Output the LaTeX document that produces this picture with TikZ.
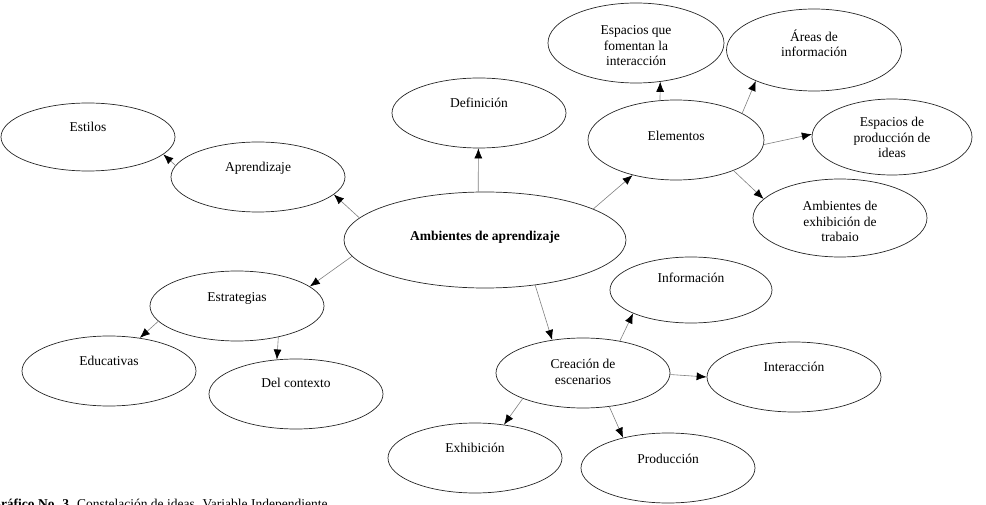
\documentclass[tikz,border=0pt]{standalone}
\usepackage{fontspec}
\setmainfont{Liberation Serif}
\usetikzlibrary{shapes.geometric,arrows.meta}
\newcommand{\up}[2]{\raisebox{#1}[0pt][0pt]{\begin{tabular}{@{}c@{}}#2\end{tabular}}}

\begin{document}
\begin{tikzpicture}[x=1pt,y=-1pt,
  idea/.style={ellipse,draw=black!85,line width=0.7pt,inner sep=0pt,
    minimum width=174pt,minimum height=70pt,font=\fontsize{13.5pt}{15.5pt}\selectfont},
  link/.style={draw=gray,line width=0.6pt,-{Latex[length=10pt,width=8pt,color=black]}}]
  \useasboundingbox (0,0) rectangle (986,505);

  % Central idea
  \node[idea,minimum width=282pt,minimum height=96pt] (amb) at (485,240) {\up{-1pt}{\textbf{Ambientes de aprendizaje}}};

  % Upper left
  \node[idea,minimum height=68pt] (estilos) at (88,137) {\up{5pt}{Estilos}};
  \node[idea] (aprend) at (258,177) {\up{5pt}{Aprendizaje}};
  \node[idea] (defin) at (479,113) {\up{5pt}{Definición}};

  % Elementos and its parts
  \node[idea,minimum width=176pt,minimum height=80pt] (elem) at (676,140) {\up{-1pt}{Elementos}};
  \node[idea,minimum width=176pt,minimum height=80pt] (fomen) at (636,43) {\up{-8pt}{Espacios que\\fomentan la\\interacción}};
  \node[idea,minimum width=175pt,minimum height=82pt] (areas) at (814,50) {\up{1pt}{Áreas de\\información}};
  \node[idea,minimum width=160pt,minimum height=76pt] (prodid) at (892,137) {\up{-6pt}{Espacios de\\producción de\\ideas}};
  \node[idea,minimum height=78pt] (exhtrab) at (840,218) {\up{-9pt}{Ambientes de\\exhibición de\\trabaio}};

  % Estrategias
  \node[idea] (estrat) at (237,306) {\up{4pt}{Estrategias}};
  \node[idea] (educ) at (109,371) {\up{5pt}{Educativas}};
  \node[idea] (contexto) at (296,394) {\up{6pt}{Del contexto}};

  % Creacion de escenarios
  \node[idea] (escen) at (583,373) {\up{-4pt}{Creación de\\escenarios}};
  \node[idea,minimum width=162pt,minimum height=66pt] (inform) at (691,290) {\up{7pt}{Información}};
  \node[idea] (interac) at (794,377) {\up{5pt}{Interacción}};
  \node[idea] (exhib) at (475,458) {\up{5pt}{Exhibición}};
  \node[idea] (produc) at (668,468) {\up{4pt}{Producción}};

  % Connectors
  \draw[link] (aprend.172) -- (estilos.-13);
  \draw[link] (amb.170) -- (aprend.-13);
  \draw[link] (amb.98) -- (defin.-91);
  \draw[link] (amb.16) -- (elem.-141);
  \draw[link] (elem.112) -- (fomen.-58);
  \draw[link] (elem.22) -- (areas.-152);
  \draw[link] (elem.-3) -- (prodid.178);
  \draw[link] (elem.-28) -- (exhtrab.166);
  \draw[link] (amb.-173) -- (estrat.15);
  \draw[link] (estrat.-169) -- (educ.47);
  \draw[link] (estrat.-37) -- (contexto.119);
  \draw[link] (amb.-42) -- (escen.133);
  \draw[link] (escen.41) -- (inform.-158);
  \draw[link] (escen.-1) -- (interac.180);
  \draw[link] (escen.-157) -- (exhib.49);
  \draw[link] (escen.-52) -- (produc.146);

  % Caption (cut by the page edge)
  \node[anchor=base west,inner sep=0pt,font=\fontsize{13.5pt}{15.5pt}\selectfont] (caption) at (-9.7,508.5)
    {\textbf{Gráfico No. 3.} Constelación de ideas. Variable Independiente};
\end{tikzpicture}
\end{document}
